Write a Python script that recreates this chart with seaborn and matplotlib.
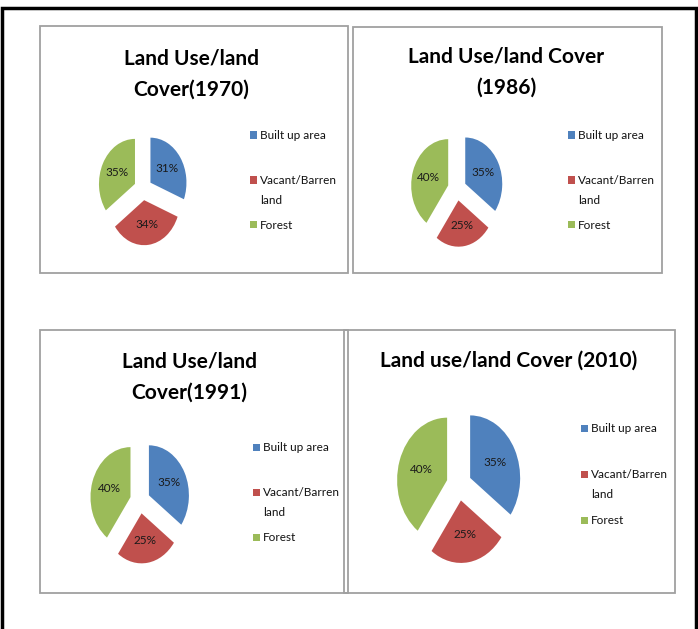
import matplotlib
matplotlib.use("Agg")
import matplotlib.pyplot as plt
from matplotlib.patches import Rectangle
import seaborn as sns

# data
titles = ["Land Use/land\nCover(1970)", "Land Use/land Cover\n(1986)",
          "Land Use/land\nCover(1991)", "Land use/land Cover (2010)"]
categories = ["Built up area", "Vacant/Barren\nland", "Forest"]
built_up = [31, 35, 35, 35]
vacant = [34, 25, 25, 25]
forest = [35, 40, 40, 40]
colors = ["#4F81BD", "#C0504D", "#9BBB59"]

sns.set_theme(style="white")
plt.rcParams["font.family"] = ["Lato", "DejaVu Sans"]

W, H = 698, 629
fig = plt.figure(figsize=(W / 100, H / 100), dpi=100)
fig.patch.set_facecolor("white")

def fx(x):
    return x / W

def fy(y):
    return 1 - y / H

# layout in pixels (x0, y0, x1, y1), title centre, pie centre + radius, legend anchor
boxes = [(40, 26, 348, 273), (353, 27, 662, 273), (40, 330, 348, 593), (344, 330, 675, 593)]
title_pos = [(191, 74), (506, 72), (189, 377), (509, 361)]
pie_pos = [(143, 189, 36), (457, 189, 37), (140, 501, 40), (459, 485, 50)]
legend_pos = [(250, 135, 45), (568, 135, 45), (253, 447, 45), (581, 428, 46)]
stretch = 1.25  # the source picture is squashed horizontally

# outer black frame (bottom edge is cut off in the original)
fig.add_artist(Rectangle((fx(2), fy(660)), fx(694), (660 - 8) / H, fill=False,
                         edgecolor="black", linewidth=2.5, transform=fig.transFigure,
                         clip_on=False))

for i in range(4):
    x0, y0, x1, y1 = boxes[i]
    fig.add_artist(Rectangle((fx(x0), fy(y1)), (x1 - x0) / W, (y1 - y0) / H, fill=False,
                             edgecolor="#A0A0A0", linewidth=1.3, transform=fig.transFigure))

    tx, ty = title_pos[i]
    fig.text(fx(tx), fy(ty), titles[i], ha="center", va="center", fontsize=15,
             fontweight="bold", linespacing=1.65, color="black")

    cx, cy, r = pie_pos[i]
    ax = fig.add_axes([fx(cx - 1.5 * r), fy(cy + 1.5 * r * stretch),
                       3 * r / W, 3 * r * stretch / H])
    vals = [built_up[i], vacant[i], forest[i]]
    ax.pie(vals, colors=colors, explode=[0.25] * 3, startangle=90, counterclock=False,
           autopct="%1.0f%%", pctdistance=0.55,
           textprops={"fontsize": 8.5, "color": "#1a1a1a"},
           wedgeprops={"linewidth": 0})
    ax.set_aspect("auto")
    ax.set_xlim(-1.5, 1.5)
    ax.set_ylim(-1.5, 1.5)
    ax.axis("off")

    # legend, Excel style: entries spaced evenly by their first line
    mx, my, step = legend_pos[i]
    for j, lab in enumerate(categories):
        yy = my + j * step
        fig.add_artist(Rectangle((fx(mx), fy(yy + 3.5)), 7 / W, 7 / H, facecolor=colors[j],
                                 edgecolor="none", transform=fig.transFigure))
        fig.text(fx(mx + 10), fy(yy - 4.7), lab, ha="left", va="top", fontsize=8.5,
                 linespacing=1.95, color="#111111")

plt.savefig("out.png", dpi=100, facecolor="white")
